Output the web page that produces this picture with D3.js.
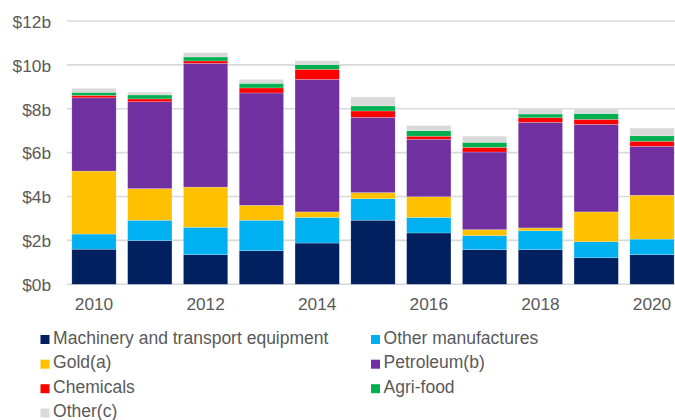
<!DOCTYPE html>
<html>
<head>
<meta charset="utf-8">
<script src="https://cdn.jsdelivr.net/npm/d3@7"></script>
<style>
  html, body { margin: 0; padding: 0; background: #fff; }
  svg { display: block; }
  text { font-family: "Liberation Sans", Arial, sans-serif; fill: #595959; }
</style>
</head>
<body>
<svg id="chart" width="675" height="420"></svg>
<script>
const years = ["2010","2011","2012","2013","2014","2015","2016","2017","2018","2019","2020"];
const seriesNames = ["Machinery and transport equipment","Other manufactures","Gold(a)","Petroleum(b)","Chemicals","Agri-food","Other(c)"];
const seriesColors = ["#002060","#00B0F0","#FFC000","#7030A0","#FF0000","#00B050","#D9D9D9"];
const machinery   = [1.60, 1.99, 1.35, 1.53, 1.88, 2.92, 2.34, 1.58, 1.58, 1.21, 1.35];
const otherManuf  = [0.69, 0.93, 1.25, 1.39, 1.17, 0.98, 0.71, 0.64, 0.86, 0.73, 0.71];
const gold        = [2.87, 1.44, 1.83, 0.68, 0.25, 0.28, 0.94, 0.27, 0.13, 1.36, 2.00];
const petroleum   = [3.34, 3.96, 5.64, 5.12, 6.04, 3.43, 2.62, 3.54, 4.81, 3.99, 2.23];
const chemicals   = [0.11, 0.13, 0.11, 0.23, 0.46, 0.29, 0.14, 0.21, 0.21, 0.23, 0.23];
const agriFood    = [0.14, 0.18, 0.18, 0.21, 0.21, 0.23, 0.25, 0.23, 0.17, 0.26, 0.25];
const otherC      = [0.18, 0.13, 0.20, 0.18, 0.18, 0.41, 0.23, 0.28, 0.26, 0.24, 0.35];
const yTicks = [0, 2, 4, 6, 8, 10, 12];
const xTickLabels = ["2010","2012","2014","2016","2018","2020"];

const seriesValues = [machinery, otherManuf, gold, petroleum, chemicals, agriFood, otherC];
const keys = seriesNames;
const rows = years.map((yr, i) => {
  const r = { year: yr };
  keys.forEach((k, j) => r[k] = seriesValues[j][i]);
  return r;
});

const svg = d3.select("#chart");
const x = d3.scaleBand().domain(years).range([66.1, 679.9]).paddingInner(0.206).paddingOuter(0.103);
const y = d3.scaleLinear().domain([0, 12]).range([284.3, 21]);

// gridlines
svg.append("g")
  .selectAll("line")
  .data(yTicks)
  .join("line")
  .attr("x1", 67).attr("x2", 675)
  .attr("y1", d => y(d)).attr("y2", d => y(d))
  .attr("stroke", "#D9D9D9").attr("stroke-width", 1.6);

// y axis labels
const yAxis = d3.axisLeft(y).tickValues(yTicks).tickFormat(d => "$" + d + "b").tickSize(0).tickPadding(0);
const gy = svg.append("g").attr("transform", "translate(51,0)").call(yAxis);
gy.select(".domain").remove();
gy.selectAll("text").style("font-size", "17.3px").attr("fill", "#595959").attr("dy", "0.36em");

// stacked bars
const stack = d3.stack().keys(keys);
const stacked = stack(rows);
const color = d3.scaleOrdinal().domain(keys).range(seriesColors);

svg.append("g")
  .selectAll("g")
  .data(stacked)
  .join("g")
  .attr("fill", d => color(d.key))
  .selectAll("rect")
  .data(d => d)
  .join("rect")
  .attr("x", d => x(d.data.year))
  .attr("width", x.bandwidth())
  .attr("y", d => y(d[1]))
  .attr("height", d => y(d[0]) - y(d[1]))
  .attr("stroke", "#ffffff")
  .attr("stroke-opacity", 0.35)
  .attr("stroke-width", 0.6);

// x axis labels
const xAxis = d3.axisBottom(x).tickValues(xTickLabels).tickSize(0).tickPadding(0);
const gx = svg.append("g").attr("transform", "translate(0,298)").call(xAxis);
gx.select(".domain").remove();
gx.selectAll("text").style("font-size", "17.3px").attr("fill", "#595959").attr("dy", "0.71em");

// legend
const legendPos = [
  [40.5, 343.5], [371, 343.5],
  [40.5, 368.2], [371, 368.2],
  [40.5, 392.7], [371, 392.7],
  [40.5, 417]
];
const lg = svg.append("g")
  .selectAll("g")
  .data(keys)
  .join("g")
  .attr("transform", (d, i) => `translate(${legendPos[i][0]},${legendPos[i][1]})`);
lg.append("rect")
  .attr("x", 0).attr("y", -8.5).attr("width", 9).attr("height", 9)
  .attr("fill", d => color(d));
lg.append("text")
  .attr("x", 12.6).attr("y", 0)
  .style("font-size", "17.5px")
  .text(d => d);
</script>
</body>
</html>
